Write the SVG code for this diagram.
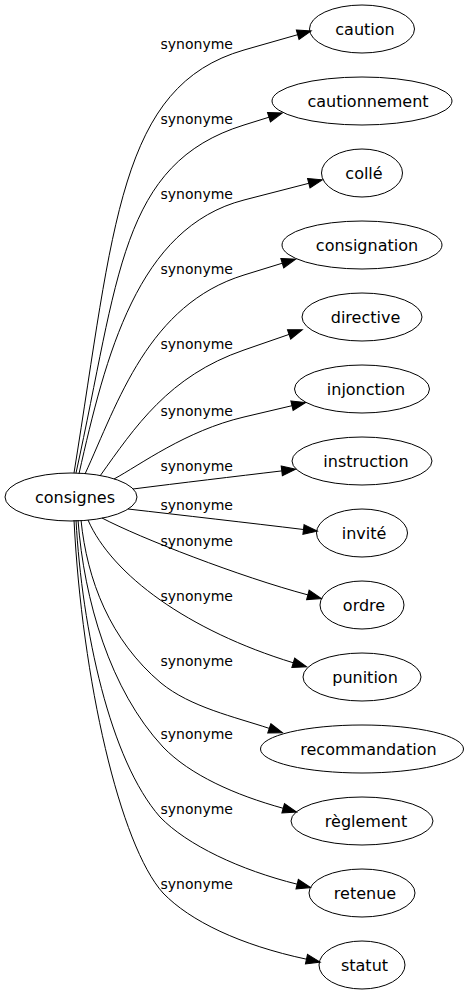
<svg xmlns="http://www.w3.org/2000/svg" width="469" height="995" viewBox="0 0 469 995">
<style>
.node ellipse{fill:none;stroke:#000;stroke-width:1}
.node text{font-family:"DejaVu Sans","Liberation Sans",sans-serif;font-size:16px;text-anchor:middle;fill:#000}
.edge path{fill:none;stroke:#000;stroke-width:1;marker-end:url(#arr)}
.lbl{font-family:"DejaVu Sans","Liberation Sans",sans-serif;font-size:14px;fill:#000}
</style>
<defs>
<marker id="arr" markerUnits="userSpaceOnUse" markerWidth="16" markerHeight="12" viewBox="-1 -1 15.3 11.34" refX="0" refY="4.67" orient="auto" overflow="visible">
<path d="M0,0 L13.3,4.67 L0,9.34 z" fill="#000" stroke="#000" stroke-width="1"/>
</marker>
</defs>
<rect width="469" height="995" fill="#fff"/>
<g id="edges" class="edge">
<path d="M74,473 C114,225 119,86 244,50 L297.7,34.7"/>
<path d="M76,473 C119,278 119.8,163.5 244,125 L269,117.2"/>
<path d="M79,473.7 C105.6,356 137.4,227.4 244,200 L308.8,183.3"/>
<path d="M85,474 C118,402 148.5,304.4 244,275 L282.3,263.2"/>
<path d="M100,476 C135,427 168.5,376 244,350 L289.1,334.4"/>
<path d="M114,479 C140,465 185.6,430.7 244,417 L292,405.7"/>
<path d="M133,489 C180,483 235,476.5 281.8,470.9"/>
<path d="M128,509 C180,515 250,523 303.5,529.5"/>
<path d="M102,518 C140,538 240.3,576.9 307.9,594.9"/>
<path d="M88,520 C112,575 188.1,630.6 293.3,662.8"/>
<path d="M81,520 C87,580 110,640 161,683 C190,707 235,717 269.3,728.4"/>
<path d="M78,520 C84,600 110,690 163,747 C190,775 235,795 283.2,808.3"/>
<path d="M76,520 C82,630 110,760 160,817 C187,845 240,870 297.2,884.2"/>
<path d="M74,520 C82,680 120,845 163,893 C190,921 240,945 306.5,959.2"/>
<text class="lbl" x="160.5" y="49.3">synonyme</text>
<text class="lbl" x="160.5" y="124.3">synonyme</text>
<text class="lbl" x="160.5" y="199.3">synonyme</text>
<text class="lbl" x="160.5" y="274.3">synonyme</text>
<text class="lbl" x="160.5" y="349.3">synonyme</text>
<text class="lbl" x="160.5" y="416">synonyme</text>
<text class="lbl" x="160.5" y="471">synonyme</text>
<text class="lbl" x="160.5" y="510.3">synonyme</text>
<text class="lbl" x="160.5" y="546">synonyme</text>
<text class="lbl" x="160.5" y="601">synonyme</text>
<text class="lbl" x="160.5" y="666">synonyme</text>
<text class="lbl" x="160.5" y="739.3">synonyme</text>
<text class="lbl" x="160.5" y="814.3">synonyme</text>
<text class="lbl" x="160.5" y="889.3">synonyme</text>
</g>
<g id="consignes" class="node"><ellipse cx="71" cy="497" rx="66" ry="24"/><text x="75" y="502.5">consignes</text></g>
<g id="caution" class="node"><ellipse cx="362" cy="29" rx="52.5" ry="24"/><text x="365" y="34.5">caution</text></g>
<g id="cautionnement" class="node"><ellipse cx="362" cy="101" rx="90" ry="24"/><text x="368" y="106.5">cautionnement</text></g>
<g id="colle" class="node"><ellipse cx="362" cy="173" rx="40.5" ry="24"/><text x="364" y="178.5">collé</text></g>
<g id="consignation" class="node"><ellipse cx="362" cy="245" rx="80" ry="24"/><text x="367" y="250.5">consignation</text></g>
<g id="directive" class="node"><ellipse cx="362" cy="317" rx="60" ry="24"/><text x="365.5" y="322.5">directive</text></g>
<g id="injonction" class="node"><ellipse cx="362" cy="389" rx="67.5" ry="24"/><text x="366" y="394.5">injonction</text></g>
<g id="instruction" class="node"><ellipse cx="362" cy="461" rx="70" ry="24"/><text x="366" y="466.5">instruction</text></g>
<g id="invite" class="node"><ellipse cx="362" cy="533" rx="45.5" ry="24"/><text x="364" y="538.5">invité</text></g>
<g id="ordre" class="node"><ellipse cx="362" cy="605" rx="42" ry="24"/><text x="364" y="610.5">ordre</text></g>
<g id="punition" class="node"><ellipse cx="362" cy="677" rx="59" ry="24"/><text x="365" y="682.5">punition</text></g>
<g id="recommandation" class="node"><ellipse cx="362" cy="749" rx="101.5" ry="24"/><text x="368.5" y="754.5">recommandation</text></g>
<g id="reglement" class="node"><ellipse cx="362" cy="821" rx="71" ry="24"/><text x="366" y="826.5">règlement</text></g>
<g id="retenue" class="node"><ellipse cx="362" cy="893" rx="53" ry="24"/><text x="365" y="898.5">retenue</text></g>
<g id="statut" class="node"><ellipse cx="362" cy="965" rx="43" ry="24"/><text x="364.5" y="970.5">statut</text></g>
</svg>
